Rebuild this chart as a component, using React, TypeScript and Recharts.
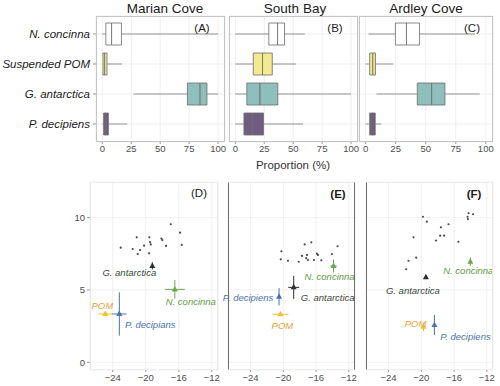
import { BarChart, Bar, Cell, XAxis, YAxis, CartesianGrid, ScatterChart, Scatter, ErrorBar } from 'recharts';

const FONT = '"Liberation Sans", Arial, sans-serif';

// box plot summaries (proportion %)
const marianBox = [
  { name: 'N. concinna', min: 0, q1: 3, med: 8, q3: 16.5, max: 100 },
  { name: 'Suspended POM', min: 0, q1: 0.5, med: 2, q3: 4, max: 17 },
  { name: 'G. antarctica', min: 27, q1: 73.5, med: 84.5, q3: 90.4, max: 100 },
  { name: 'P. decipiens', min: 0, q1: 1.1, med: 3, q3: 5.2, max: 21.5 },
];
const southBox = [
  { name: 'N. concinna', min: 0, q1: 28.9, med: 36.5, q3: 42.5, max: 60 },
  { name: 'Suspended POM', min: 0, q1: 15.5, med: 23.5, q3: 31.9, max: 52.4 },
  { name: 'G. antarctica', min: 0, q1: 9.9, med: 21.3, q3: 36.7, max: 100 },
  { name: 'P. decipiens', min: 0, q1: 7.4, med: 15, q3: 24.3, max: 58.5 },
];
const ardleyBox = [
  { name: 'N. concinna', min: 2.4, q1: 24.8, med: 34, q3: 44.8, max: 91 },
  { name: 'Suspended POM', min: 0, q1: 3.4, med: 6, q3: 8.2, max: 23 },
  { name: 'G. antarctica', min: 9, q1: 43, med: 55, q3: 66, max: 95 },
  { name: 'P. decipiens', min: 0, q1: 3.4, med: 5, q3: 8, max: 13 },
];
const propTicks = [0, 25, 50, 75, 100];

// isotope biplots: consumers (x = d13C, y = d15N)
const marianConsumers = [
  { x: -23.03, y: 7.92 }, { x: -21.58, y: 7.83 }, { x: -21.09, y: 8.64 }, { x: -20.69, y: 7.76 },
  { x: -20.97, y: 7.48 }, { x: -20.2, y: 8.06 }, { x: -19.48, y: 8.31 }, { x: -19.56, y: 8.64 },
  { x: -19.39, y: 8.15 }, { x: -19.6, y: 7.53 }, { x: -17.99, y: 8.45 }, { x: -18.1, y: 8.55 },
  { x: -17.54, y: 8.04 }, { x: -16.97, y: 9.54 }, { x: -15.84, y: 8.96 }, { x: -15.64, y: 8.11 },
];
const southConsumers = [
  { x: -20.23, y: 7.67 }, { x: -20.31, y: 7.12 }, { x: -19.43, y: 7.02 }, { x: -18.12, y: 6.95 },
  { x: -17.39, y: 8.15 }, { x: -17.72, y: 7.35 }, { x: -17.11, y: 7.42 }, { x: -16.99, y: 7.07 },
  { x: -16.58, y: 8.29 }, { x: -16.26, y: 7.07 }, { x: -15.9, y: 7.51 }, { x: -15.78, y: 7.42 },
  { x: -15.36, y: 7.05 }, { x: -14.07, y: 7.48 }, { x: -13.38, y: 8.02 }, { x: -17.2, y: 7.2 },
];
const ardleyConsumers = [
  { x: -19.8, y: 10.06 }, { x: -19.32, y: 9.72 }, { x: -17.61, y: 9.33 }, { x: -16.68, y: 9.54 },
  { x: -17.7, y: 8.75 }, { x: -17.22, y: 8.75 }, { x: -18.2, y: 8.41 }, { x: -15.48, y: 8.33 },
  { x: -20.95, y: 8.64 }, { x: -20.62, y: 7.23 }, { x: -21.56, y: 7.02 }, { x: -21.84, y: 6.43 },
  { x: -14.24, y: 10.3 }, { x: -14.36, y: 10.06 }, { x: -13.68, y: 10.23 }, { x: -14.3, y: 9.9 },
];

// sources: mean +/- sd
const marianSources = [
  { name: 'G. antarctica', label: 'G. antarctica', x: -19.2, y: 6.66, sx: 0, sy: 0.25 },
  { name: 'N. concinna', label: 'N. concinna', x: -16.48, y: 5.04, sx: 1.2, sy: 0.65 },
  { name: 'POM', label: 'POM', x: -24.9, y: 3.34, sx: 0.88, sy: 0 },
  { name: 'P. decipiens', label: 'P. decipians', x: -23.2, y: 3.34, sx: 0.87, sy: 1.5 },
];
const southSources = [
  { name: 'G. antarctica', label: 'G. antarctica', x: -18.73, y: 5.18, sx: 0.67, sy: 0.8 },
  { name: 'N. concinna', label: 'N. concinna', x: -13.87, y: 6.66, sx: 0.4, sy: 0.45 },
  { name: 'P. decipiens', label: 'P. decipiens', x: -20.52, y: 4.53, sx: 0.15, sy: 0.6 },
  { name: 'POM', label: 'POM', x: -20.35, y: 3.32, sx: 0.97, sy: 0.1 },
];
const ardleySources = [
  { name: 'G. antarctica', label: 'G. antarctica', x: -19.44, y: 5.87, sx: 0.1, sy: 0.1 },
  { name: 'N. concinna', label: 'N. concinna', x: -14.02, y: 6.95, sx: 0.1, sy: 0.3 },
  { name: 'POM', label: 'POM', x: -19.73, y: 2.46, sx: 0.1, sy: 0.3 },
  { name: 'P. decipiens', label: 'P. decipiens', x: -18.4, y: 2.58, sx: 0.05, sy: 0.7 },
];
const isoXTicks = [-24, -20, -16, -12];
const isoYTicks = [0, 5, 10];

const BOX_FILL: Record<string, string> = {
  'N. concinna': '#ffffff',
  'Suspended POM': '#f3e98f',
  'G. antarctica': '#8fbfbd',
  'P. decipiens': '#715c82',
};
const SRC_COLOR: Record<string, string> = {
  'G. antarctica': '#2e2e2e',
  'N. concinna': '#6aa84f',
  POM: '#f2c12e',
  'P. decipiens': '#4a72b0',
};
const LABEL_COLOR: Record<string, string> = {
  'G. antarctica': '#394739',
  'N. concinna': '#5f9b3f',
  POM: '#e3a13a',
  'P. decipiens': '#4a72b0',
};

// label offsets from marker (px)
const marianOffsets: Record<string, number[]> = {
  'G. antarctica': [-23, 7], 'N. concinna': [16, 12], POM: [-3, -8], 'P. decipiens': [31, 11],
};
const southOffsets: Record<string, number[]> = {
  'G. antarctica': [34, 10], 'N. concinna': [-4, 11], POM: [2, 11], 'P. decipiens': [-31, 1],
};
const ardleyOffsets: Record<string, number[]> = {
  'G. antarctica': [-13, 13], 'N. concinna': [-2, 9], POM: [-8, -3], 'P. decipiens': [31, 12],
};

const tickStyle = { fontSize: 9.5, fill: '#4d4d4d', fontFamily: FONT };
const minus = (v: number) => String(v).replace('-', '\u2212');

type Rect = { x: number; y: number; w: number; h: number };

const Whisker = (p: any) => {
  if (!p.width) return null;
  const cy = p.y + p.height / 2;
  return <line x1={p.x} x2={p.x + p.width} y1={cy} y2={cy} stroke="#7a7a7a" strokeWidth={0.8} />;
};

const CategoryTick = (p: any) => (
  <text
    x={p.x}
    y={p.y}
    textAnchor="end"
    dominantBaseline="central"
    fontSize={11.5}
    fontStyle="italic"
    fontFamily={FONT}
    fill="#1a1a1a"
  >
    {p.payload.value}
  </text>
);

function BoxPanel({ data, rect, showY }: { data: typeof marianBox; rect: Rect; showY: boolean }) {
  const yw = showY ? 96 : 0;
  const ml = showY ? 96 : 4;
  const mr = 10, mt = 2, mb = 2, xh = 16;
  const rows = data.map((d) => ({
    name: d.name,
    lo: d.min,
    w1: d.q1 - d.min,
    b1: d.med - d.q1,
    b2: d.q3 - d.med,
    w2: d.max - d.q3,
  }));
  return (
    <div style={{ position: 'absolute', left: rect.x - ml, top: rect.y - mt }}>
      <BarChart
        width={ml + rect.w + mr}
        height={mt + rect.h + xh + mb}
        layout="vertical"
        data={rows}
        barSize={22}
        margin={{ top: mt, right: mr, bottom: mb, left: ml - yw }}
      >
        <CartesianGrid stroke="#ebebeb" strokeWidth={0.8} />
        <XAxis
          type="number"
          domain={[-5.5, 106]}
          ticks={propTicks}
          height={xh}
          tick={tickStyle}
          tickSize={2}
          tickMargin={1}
          axisLine={false}
          tickLine={{ stroke: '#999' }}
          allowDataOverflow
        />
        <YAxis
          type="category"
          dataKey="name"
          width={yw}
          hide={!showY}
          padding={{ top: 3, bottom: 3 }}
          tick={CategoryTick}
          tickSize={3}
          tickMargin={3}
          axisLine={false}
          tickLine={{ stroke: '#999' }}
        />
        <Bar dataKey="lo" stackId="s" fill="none" isAnimationActive={false} />
        <Bar dataKey="w1" stackId="s" shape={Whisker} isAnimationActive={false} />
        <Bar dataKey="b1" stackId="s" stroke="#6b6b6b" strokeWidth={0.8} isAnimationActive={false}>
          {rows.map((r) => <Cell key={r.name} fill={BOX_FILL[r.name]} />)}
        </Bar>
        <Bar dataKey="b2" stackId="s" stroke="#6b6b6b" strokeWidth={0.8} isAnimationActive={false}>
          {rows.map((r) => <Cell key={r.name} fill={BOX_FILL[r.name]} />)}
        </Bar>
        <Bar dataKey="w2" stackId="s" shape={Whisker} isAnimationActive={false} />
      </BarChart>
    </div>
  );
}

const ConsumerDot = (p: any) => <circle cx={p.cx} cy={p.cy} r={1.1} fill="#4a4a4a" />;

function makeMarker(offsets: Record<string, number[]>) {
  return (p: any) => {
    const s = p.payload;
    const [dx, dy] = offsets[s.name];
    return (
      <g>
        <polygon
          points={`${p.cx},${p.cy - 3.5} ${p.cx - 3},${p.cy + 2} ${p.cx + 3},${p.cy + 2}`}
          fill={SRC_COLOR[s.name]}
        />
        <text
          x={p.cx + dx}
          y={p.cy + dy}
          textAnchor="middle"
          dominantBaseline="central"
          fontSize={9.5}
          fontStyle="italic"
          fontFamily={FONT}
          fill={LABEL_COLOR[s.name]}
        >
          {s.label}
        </text>
      </g>
    );
  };
}

function IsoPanel({
  rect, consumers, sources, offsets, showY,
}: {
  rect: Rect; consumers: typeof marianConsumers; sources: typeof marianSources;
  offsets: Record<string, number[]>; showY: boolean;
}) {
  const yw = showY ? 40 : 0;
  const ml = 40;
  const mr = 10, mt = 2, mb = 2, xh = 16;
  const marker = makeMarker(offsets);
  return (
    <div style={{ position: 'absolute', left: rect.x - ml, top: rect.y - mt }}>
      <ScatterChart
        width={ml + rect.w + mr}
        height={mt + rect.h + xh + mb}
        margin={{ top: mt, right: mr, bottom: mb, left: ml - yw }}
      >
        <CartesianGrid stroke="#ececec" strokeWidth={0.8} />
        <XAxis
          type="number"
          dataKey="x"
          domain={[-26.75, -11.25]}
          ticks={isoXTicks}
          tickFormatter={minus}
          height={xh}
          tick={tickStyle}
          tickSize={2}
          tickMargin={2}
          axisLine={false}
          tickLine={{ stroke: '#999' }}
        />
        <YAxis
          type="number"
          dataKey="y"
          domain={[-0.53, 12.46]}
          ticks={isoYTicks}
          width={yw}
          hide={!showY}
          tick={tickStyle}
          tickSize={3}
          tickMargin={2}
          axisLine={false}
          tickLine={{ stroke: '#999' }}
        />
        <Scatter data={consumers} shape={ConsumerDot} isAnimationActive={false} />
        {sources.map((s) => (
          <Scatter key={s.name} data={[s]} shape={marker} isAnimationActive={false}>
            <ErrorBar dataKey="sx" direction="x" width={0} stroke={SRC_COLOR[s.name]} strokeWidth={1} />
            <ErrorBar dataKey="sy" direction="y" width={0} stroke={SRC_COLOR[s.name]} strokeWidth={1} />
          </Scatter>
        ))}
      </ScatterChart>
    </div>
  );
}

function Txt({ x, y, size, children, weight, color }: any) {
  return (
    <div
      style={{
        position: 'absolute', left: x, top: y, transform: 'translate(-50%, -50%)',
        fontSize: size, fontFamily: FONT, whiteSpace: 'nowrap', lineHeight: 1,
        fontWeight: weight || 'normal', color: color || '#1a1a1a',
      }}
    >
      {children}
    </div>
  );
}

function Frame({ r, left, right, top, bottom }: any) {
  return (
    <div
      style={{
        position: 'absolute', left: r.x, top: r.y, width: r.w, height: r.h, boxSizing: 'border-box',
        borderLeft: `1px solid ${left}`, borderRight: `1px solid ${right}`,
        borderTop: `1px solid ${top}`, borderBottom: `1px solid ${bottom}`, pointerEvents: 'none',
      }}
    />
  );
}

const rA = { x: 96, y: 16, w: 129, h: 126 };
const rB = { x: 229, y: 16, w: 129, h: 126 };
const rC = { x: 359, y: 16, w: 134, h: 126 };
const rD = { x: 90, y: 182, w: 128, h: 188 };
const rE = { x: 228, y: 182, w: 127, h: 188 };
const rF = { x: 366, y: 182, w: 127, h: 188 };

export default function App() {
  const lt = '#c4c4c4';
  const dk = '#6e6e6e';
  return (
    <div style={{ position: 'fixed', left: 0, top: 0, width: 500, height: 386, background: '#fff', overflow: 'hidden' }}>
      <BoxPanel data={marianBox} rect={rA} showY />
      <BoxPanel data={southBox} rect={rB} showY={false} />
      <BoxPanel data={ardleyBox} rect={rC} showY={false} />
      <Frame r={rA} left={lt} right={lt} top={lt} bottom={lt} />
      <Frame r={rB} left={lt} right={lt} top={lt} bottom={lt} />
      <Frame r={rC} left={lt} right={lt} top={lt} bottom={lt} />
      <Txt x={165} y={8.5} size={13.5}>Marian Cove</Txt>
      <Txt x={295} y={8.5} size={13.5}>South Bay</Txt>
      <Txt x={426} y={8.5} size={13.5}>Ardley Cove</Txt>
      <Txt x={202} y={29} size={11.5}>(A)</Txt>
      <Txt x={335} y={29} size={11.5}>(B)</Txt>
      <Txt x={472} y={29} size={11.5}>(C)</Txt>
      <Txt x={293} y={166} size={11.5} color="#333">Proportion (%)</Txt>

      <IsoPanel rect={rD} consumers={marianConsumers} sources={marianSources} offsets={marianOffsets} showY />
      <IsoPanel rect={rE} consumers={southConsumers} sources={southSources} offsets={southOffsets} showY={false} />
      <IsoPanel rect={rF} consumers={ardleyConsumers} sources={ardleySources} offsets={ardleyOffsets} showY={false} />
      <Frame r={rD} left="#e6e6e6" right="#e6e6e6" top="#eeeeee" bottom="#eeeeee" />
      <Frame r={rE} left={dk} right={dk} top="#eeeeee" bottom="#eeeeee" />
      <Frame r={rF} left={dk} right="#e6e6e6" top="#eeeeee" bottom="#eeeeee" />
      <Txt x={199} y={194} size={11.5}>(D)</Txt>
      <Txt x={338} y={195} size={11.5} weight="bold">(E)</Txt>
      <Txt x={474} y={195} size={11.5} weight="bold">(F)</Txt>
    </div>
  );
}
